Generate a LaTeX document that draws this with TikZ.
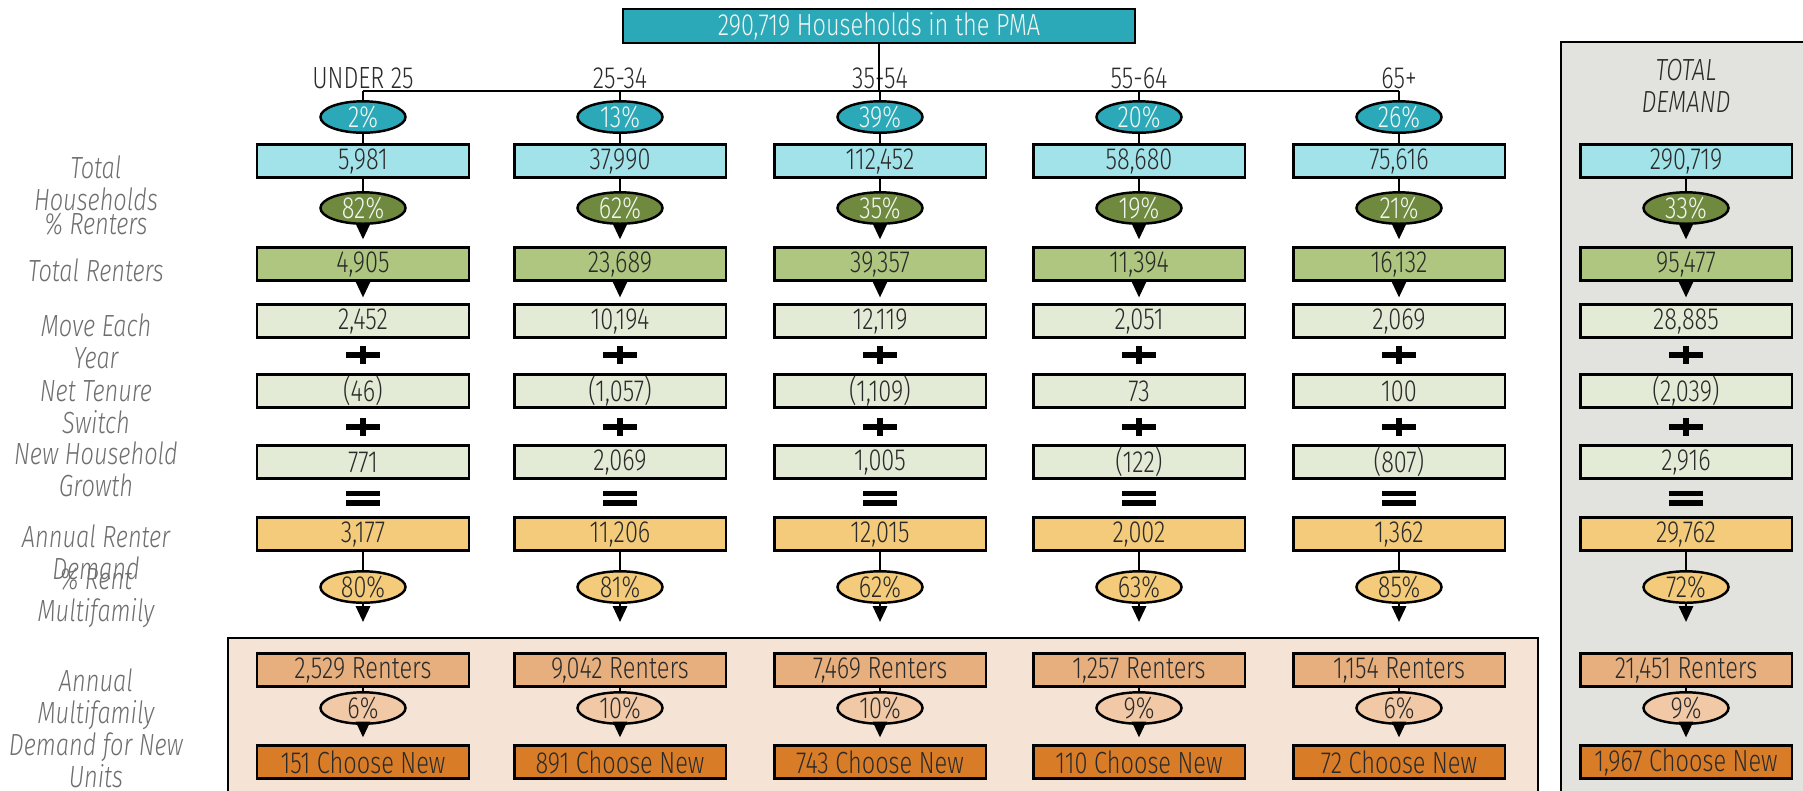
\documentclass[tikz,border=0pt]{standalone}
\usepackage{fontspec}
\setmainfont{Fira Sans}[UprightFont=* Light, ItalicFont=* Light Italic, FakeStretch=0.77]
\usetikzlibrary{shapes.geometric, arrows.meta}

\definecolor{pmateal}{HTML}{2BA9B9}
\definecolor{hhblue}{HTML}{A2E3EA}
\definecolor{rentolive}{HTML}{6F8A3F}
\definecolor{rentgreen}{HTML}{AEC680}
\definecolor{flowpale}{HTML}{E3EBD6}
\definecolor{demandyellow}{HTML}{F3CB7A}
\definecolor{mfpanel}{HTML}{F5E4D5}
\definecolor{mfrenters}{HTML}{E6AF7D}
\definecolor{newpct}{HTML}{F1C9A7}
\definecolor{choosenew}{HTML}{D97C27}
\definecolor{totalpanel}{HTML}{E2E3DE}
\definecolor{valtext}{HTML}{2A2A2A}
\definecolor{labelgray}{HTML}{6E6E6E}
\definecolor{ovaltext}{HTML}{F2F6F2}

\newcommand{\valfont}{\fontsize{8.7}{9.1}\selectfont}

\tikzset{
  numbox/.style={rectangle, draw=black, line width=0.6pt, minimum width=2.11cm,
    minimum height=0.33cm, inner sep=0pt, font=\valfont, text=valtext},
  pctoval/.style={ellipse, draw=black, line width=0.7pt, minimum width=0.85cm,
    minimum height=0.3cm, inner sep=0pt, font=\valfont},
  hhbox/.style={numbox, fill=hhblue},
  rentbox/.style={numbox, fill=rentgreen},
  flowbox/.style={numbox, fill=flowpale},
  demandbox/.style={numbox, fill=demandyellow},
  mfbox/.style={numbox, fill=mfrenters},
  choosebox/.style={numbox, fill=choosenew},
  shareoval/.style={pctoval, fill=pmateal, text=ovaltext},
  rentoval/.style={pctoval, fill=rentolive, text=ovaltext},
  mfoval/.style={pctoval, fill=demandyellow, text=valtext, minimum height=0.27cm},
  newoval/.style={pctoval, fill=newpct, text=valtext, minimum height=0.26cm},
  agelabel/.style={font=\valfont, text=valtext, inner sep=0pt},
  rowlabel/.style={font=\valfont\itshape, text=labelgray, align=center, inner sep=0pt},
  link/.style={draw=black, line width=0.75pt},
  tip/.style={-{Triangle[width=4pt,length=4.5pt]}},
  plusop/.pic={\fill (-17,-3.3) rectangle (17,3.3); \fill (-3.3,-9) rectangle (3.3,9);},
  eqop/.pic={\fill (-17,-7.5) rectangle (17,-2.3); \fill (-17,2.3) rectangle (17,7.5);}
}

\begin{document}
\begin{tikzpicture}[x=0.01cm, y=-0.01cm]
  \useasboundingbox (0,0) rectangle (1803,790);
  \clip (0,0) rectangle (1803,790);

  % Panels
  \draw[fill=totalpanel, line width=0.6pt] (1561,42) rectangle (1830,820);
  \draw[fill=mfpanel, line width=0.6pt] (228,638) rectangle (1538,820);

  % Top node
  \node[rectangle, draw=black, line width=0.6pt, fill=pmateal, minimum width=5.12cm,
    minimum height=0.34cm, inner sep=0pt, font=\valfont, text=ovaltext]
    (pma) at (879,26) {290,719 Households in the PMA};

  % Age groups
  \node[agelabel] (a1) at (363,78) {UNDER 25};
  \node[agelabel] (a2) at (620,78) {25-34};
  \node[agelabel] (a3) at (880,78) {35-54};
  \node[agelabel] (a4) at (1139,78) {55-64};
  \node[agelabel] (a5) at (1399,78) {65+};
  \node[rowlabel, text=valtext] (tot) at (1686,86) {TOTAL\\DEMAND};

  \coordinate (b1) at (363,91);
  \coordinate (b2) at (620,91);
  \coordinate (b3) at (880,91);
  \coordinate (b4) at (1139,91);
  \coordinate (b5) at (1399,91);

  % Row labels
  \node[rowlabel] (lhh) at (96,183) {Total\\Households};
  \node[rowlabel] (lrp) at (96,224) {\% Renters};
  \node[rowlabel] (ltr) at (96,270) {Total Renters};
  \node[rowlabel] (lmv) at (96,341) {Move Each\\Year};
  \node[rowlabel] (lnt) at (96,407) {Net Tenure\\Switch};
  \node[rowlabel] (lng) at (96,469) {New Household\\Growth};
  \node[rowlabel] (lad) at (96,552) {Annual Renter\\Demand};
  \node[rowlabel] (lmf) at (96,598) {\% Rent\\Multifamily};
  \node[rowlabel] (lnu) at (96,728) {Annual\\Multifamily\\Demand for New\\Units};

  % Share of households
  \node[shareoval] (s1) at (363,117) {2\%};
  \node[shareoval] (s2) at (620,117) {13\%};
  \node[shareoval] (s3) at (880,117) {39\%};
  \node[shareoval] (s4) at (1139,117) {20\%};
  \node[shareoval] (s5) at (1399,117) {26\%};

  % Total households
  \node[hhbox] (h1) at (363,161) {5,981};
  \node[hhbox] (h2) at (620,161) {37,990};
  \node[hhbox] (h3) at (880,161) {112,452};
  \node[hhbox] (h4) at (1139,161) {58,680};
  \node[hhbox] (h5) at (1399,161) {75,616};
  \node[hhbox] (h6) at (1686,161) {290,719};

  % Percent renters
  \node[rentoval] (r1) at (363,208) {82\%};
  \node[rentoval] (r2) at (620,208) {62\%};
  \node[rentoval] (r3) at (880,208) {35\%};
  \node[rentoval] (r4) at (1139,208) {19\%};
  \node[rentoval] (r5) at (1399,208) {21\%};
  \node[rentoval] (r6) at (1686,208) {33\%};

  % Total renters
  \node[rentbox] (t1) at (363,264) {4,905};
  \node[rentbox] (t2) at (620,264) {23,689};
  \node[rentbox] (t3) at (880,264) {39,357};
  \node[rentbox] (t4) at (1139,264) {11,394};
  \node[rentbox] (t5) at (1399,264) {16,132};
  \node[rentbox] (t6) at (1686,264) {95,477};

  % Move each year
  \node[flowbox] (m1) at (363,321) {2,452};
  \node[flowbox] (m2) at (620,321) {10,194};
  \node[flowbox] (m3) at (880,321) {12,119};
  \node[flowbox] (m4) at (1139,321) {2,051};
  \node[flowbox] (m5) at (1399,321) {2,069};
  \node[flowbox] (m6) at (1686,321) {28,885};

  % Net tenure switch
  \node[flowbox] (n1) at (363,391) {(46)};
  \node[flowbox] (n2) at (620,391) {(1,057)};
  \node[flowbox] (n3) at (880,391) {(1,109)};
  \node[flowbox] (n4) at (1139,391) {73};
  \node[flowbox] (n5) at (1399,391) {100};
  \node[flowbox] (n6) at (1686,391) {(2,039)};

  % New household growth
  \node[flowbox] (g1) at (363,462) {771};
  \node[flowbox] (g2) at (620,462) {2,069};
  \node[flowbox] (g3) at (880,462) {1,005};
  \node[flowbox] (g4) at (1139,462) {(122)};
  \node[flowbox] (g5) at (1399,462) {(807)};
  \node[flowbox] (g6) at (1686,462) {2,916};

  % Annual renter demand
  \node[demandbox] (d1) at (363,534) {3,177};
  \node[demandbox] (d2) at (620,534) {11,206};
  \node[demandbox] (d3) at (880,534) {12,015};
  \node[demandbox] (d4) at (1139,534) {2,002};
  \node[demandbox] (d5) at (1399,534) {1,362};
  \node[demandbox] (d6) at (1686,534) {29,762};

  % Percent multifamily
  \node[mfoval] (f1) at (363,587) {80\%};
  \node[mfoval] (f2) at (620,587) {81\%};
  \node[mfoval] (f3) at (880,587) {62\%};
  \node[mfoval] (f4) at (1139,587) {63\%};
  \node[mfoval] (f5) at (1399,587) {85\%};
  \node[mfoval] (f6) at (1686,587) {72\%};
  \coordinate (fa1) at (363,622);
  \coordinate (fa2) at (620,622);
  \coordinate (fa3) at (880,622);
  \coordinate (fa4) at (1139,622);
  \coordinate (fa5) at (1399,622);
  \coordinate (fa6) at (1686,622);

  % Multifamily renters
  \node[mfbox] (u1) at (363,670) {2,529 Renters};
  \node[mfbox] (u2) at (620,670) {9,042 Renters};
  \node[mfbox] (u3) at (880,670) {7,469 Renters};
  \node[mfbox] (u4) at (1139,670) {1,257 Renters};
  \node[mfbox] (u5) at (1399,670) {1,154 Renters};
  \node[mfbox] (u6) at (1686,670) {21,451 Renters};

  % Percent choosing new
  \node[newoval] (w1) at (363,708) {6\%};
  \node[newoval] (w2) at (620,708) {10\%};
  \node[newoval] (w3) at (880,708) {10\%};
  \node[newoval] (w4) at (1139,708) {9\%};
  \node[newoval] (w5) at (1399,708) {6\%};
  \node[newoval] (w6) at (1686,708) {9\%};

  % Choose new
  \node[choosebox] (c1) at (363,762) {151 Choose New};
  \node[choosebox] (c2) at (620,762) {891 Choose New};
  \node[choosebox] (c3) at (880,762) {743 Choose New};
  \node[choosebox] (c4) at (1139,762) {110 Choose New};
  \node[choosebox] (c5) at (1399,762) {72 Choose New};
  \node[choosebox] (c6) at (1686,762) {1,967 Choose New};

  % Plus and equals signs
  \foreach \cx in {363,620,880,1139,1399,1686} {
    \pic at (\cx,355) {plusop};
    \pic at (\cx,427) {plusop};
    \pic at (\cx,498) {eqop};
  }

  % Lines
  \draw[link] (pma.south) -- (pma.south |- b1);
  \draw[link] (b1) -- (b5);
  \foreach \i in {1,...,5} {
    \draw[link] (b\i) -- (s\i);
    \draw[link] (s\i) -- (h\i);
  }
  \foreach \i in {1,...,6} {
    \draw[link] (h\i) -- (r\i);
    \draw[link, tip, shorten >=2pt] (r\i) -- (t\i);
    \draw[link, tip, shorten >=1.7pt] (t\i) -- (m\i);
    \draw[link] (d\i) -- (f\i);
    \draw[link, tip] (f\i) -- (fa\i);
    \draw[link] (u\i) -- (w\i);
    \draw[link, tip, shorten >=2pt] (w\i) -- (c\i);
  }
\end{tikzpicture}
\end{document}
